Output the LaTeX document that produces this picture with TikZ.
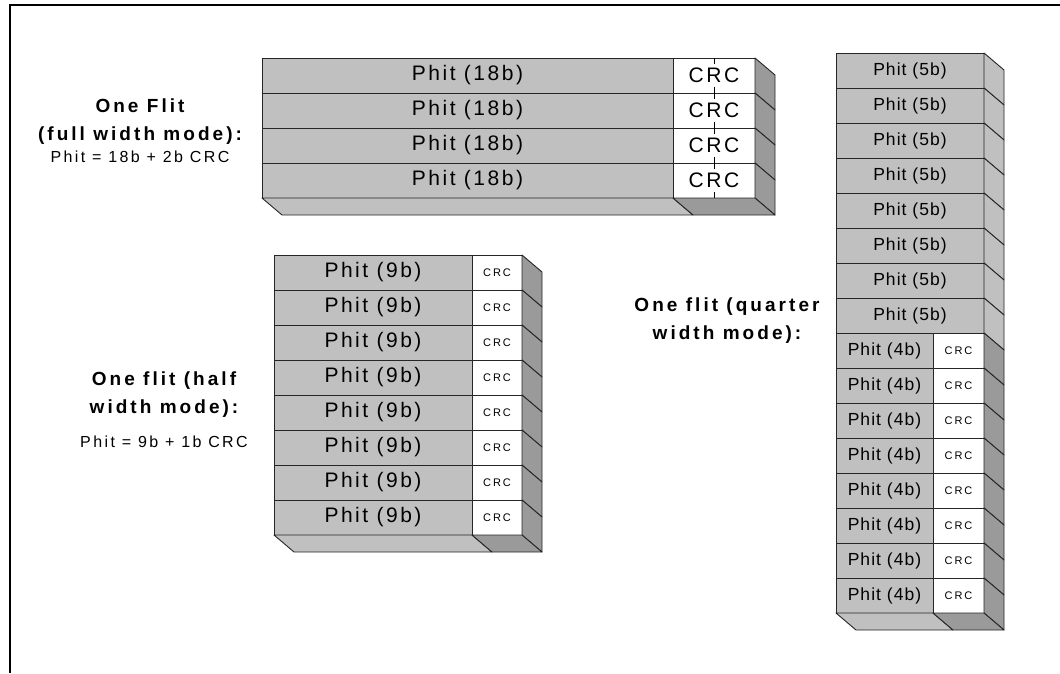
\documentclass[tikz,border=0pt]{standalone}
\usepackage{fontspec}
\setmainfont{Liberation Sans}
\usetikzlibrary{positioning}

\definecolor{phitgray}{HTML}{C0C0C0}
\definecolor{crcgray}{HTML}{9A9A9A}

\newcommand{\bigtxt}{\fontsize{21}{21}\selectfont\addfontfeature{LetterSpace=12}}
\newcommand{\midtxt}{\fontsize{17.5}{17.5}\selectfont\addfontfeature{LetterSpace=6}}
\newcommand{\tinytxt}{\fontsize{11}{11}\selectfont\addfontfeature{LetterSpace=18}}
\newcommand{\headtxt}{\fontsize{19}{28}\selectfont\bfseries\addfontfeature{LetterSpace=16}}
\newcommand{\eqtxt}{\fontsize{16}{16}\selectfont\addfontfeature{LetterSpace=15}}

\begin{document}
\begin{tikzpicture}[x=1pt,y=-1pt]
  \tikzstyle{cell}=[draw=black!85, line width=0.9pt, inner sep=0pt, outer sep=0pt, minimum height=35pt, anchor=north west]
  \tikzstyle{phit}=[cell, fill=phitgray]
  \tikzstyle{crc}=[cell, fill=white]
  \tikzstyle{lightface}=[fill=phitgray, draw=black!85, line width=0.9pt, line join=round]
  \tikzstyle{darkface}=[fill=crcgray, draw=black!85, line width=0.9pt, line join=round]
  \tikzstyle{modetext}=[align=center, inner sep=0pt]

  \useasboundingbox (0,0) rectangle (1060,673);
  \draw[line width=2.2pt] (10,673) -- (10,5) -- (1060,5);

  % full width mode
  \foreach \i in {1,...,4}{
    \node[phit, minimum width=411pt] (fp\i) at (262,{23+35*\i}) {\bigtxt Phit (18b)};
    \node[crc, minimum width=82pt] (fc\i) at (fp\i.north east) {\bigtxt CRC};
    \draw[darkface] (fc\i.north east) -- ++(20,17) -- ++(0,35) -- (fc\i.south east) -- cycle;
    \draw[line width=0.9pt] (fc\i.north) -- ++(0,6) (fc\i.south) -- ++(0,-6);
  }
  \draw[lightface] (fp4.south west) -- ++(20,17) -- ++(411,0) -- (fp4.south east) -- cycle;
  \draw[darkface] (fc4.south west) -- ++(20,17) -- ++(82,0) -- (fc4.south east) -- cycle;

  % half width mode
  \foreach \i in {1,...,8}{
    \node[phit, minimum width=198pt] (hp\i) at (274,{220+35*\i}) {\bigtxt Phit (9b)};
    \node[crc, minimum width=50pt] (hc\i) at (hp\i.north east) {\tinytxt CRC};
    \draw[darkface] (hc\i.north east) -- ++(20,17) -- ++(0,35) -- (hc\i.south east) -- cycle;
  }
  \draw[lightface] (hp8.south west) -- ++(20,17) -- ++(198,0) -- (hp8.south east) -- cycle;
  \draw[darkface] (hc8.south west) -- ++(20,17) -- ++(50,0) -- (hc8.south east) -- cycle;

  % quarter width mode
  \foreach \i in {1,...,8}{
    \node[phit, minimum width=148pt] (qp\i) at (836,{18+35*\i}) {\midtxt Phit (5b)};
    \draw[lightface] (qp\i.north east) -- ++(20,17) -- ++(0,35) -- (qp\i.south east) -- cycle;
  }
  \foreach \i in {9,...,16}{
    \node[phit, minimum width=97pt] (qp\i) at (836,{18+35*\i}) {\midtxt Phit (4b)};
    \node[crc, minimum width=51pt] (qc\i) at (qp\i.north east) {\tinytxt CRC};
    \draw[darkface] (qc\i.north east) -- ++(20,17) -- ++(0,35) -- (qc\i.south east) -- cycle;
  }
  \draw[lightface] (qp16.south west) -- ++(20,17) -- ++(97,0) -- (qp16.south east) -- cycle;
  \draw[darkface] (qc16.south west) -- ++(20,17) -- ++(51,0) -- (qc16.south east) -- cycle;

  % captions
  \node[modetext, font=\headtxt] (fulltitle) at (140,122) {One Flit\\(full width mode):};
  \node[modetext, font=\eqtxt] (fulleq) at (140,157) {Phit = 18b + 2b CRC};
  \node[modetext, font=\headtxt] (halftitle) at (164,395) {One flit (half\\width mode):};
  \node[modetext, font=\eqtxt] (halfeq) at (164,442) {Phit = 9b + 1b CRC};
  \node[modetext, font=\headtxt] (quartertitle) at (727,321) {One flit (quarter\\width mode):};
\end{tikzpicture}
\end{document}
